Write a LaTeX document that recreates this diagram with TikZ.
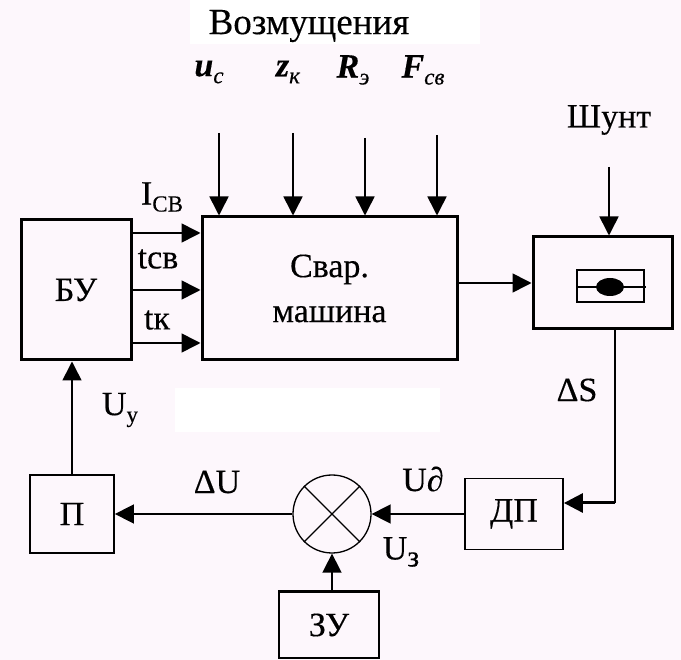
\documentclass[tikz,border=0pt]{standalone}
\usepackage{fontspec}
\setmainfont{Liberation Serif}[FakeBold=0.3]
\usetikzlibrary{arrows.meta}
\definecolor{bg}{HTML}{FDF7FC}
\newcommand\subl[1]{\raisebox{-7pt}{\fontsize{23}{23}\selectfont #1}}
\begin{document}
\begin{tikzpicture}[x=1pt,y=-1pt,
  font=\fontsize{34}{38}\selectfont,
  thickbox/.style={draw, line width=3pt, inner sep=0pt},
  thinbox/.style={draw, line width=1.8pt, inner sep=0pt},
  arr/.style={line width=1.6pt, -{Triangle[length=19pt,width=19pt]}},
  lbl/.style={inner sep=0pt}]
\fill[bg] (0,0) rectangle (681,660);
\useasboundingbox (0,0) rectangle (681,660);
\fill[white] (175,388) rectangle (440,432);
\fill[white] (190,0) rectangle (480,44);
% blocks
\node[thickbox, minimum width=110pt, minimum height=140pt] (bu) at (76,290) {БУ};
\node[thickbox, minimum width=255pt, minimum height=143pt, align=center,
      font=\fontsize{34}{45}\selectfont] (mach) at (329.5,288.5) {Свар.\\машина};
\node[thickbox, minimum width=139pt, minimum height=92pt] (shunt) at (602.5,283) {};
\node[thinbox, minimum width=84pt, minimum height=78pt] (p) at (72,514) {П};
\node[thinbox, minimum width=98pt, minimum height=71pt] (dp) at (514,514) {ДП};
\node[thinbox, minimum width=100pt, minimum height=66pt] (zu) at (329,625) {ЗУ};
\draw[line width=3pt] (zu.north west) -- (zu.north east);
\node[draw, circle, line width=1.3pt, minimum size=78pt, inner sep=0pt] (sum) at (332,514) {};
\draw[line width=1.3pt] (sum.north east) -- (sum.south west);
\draw[line width=1.3pt] (sum.north west) -- (sum.south east);
% shunt symbol
\node[draw, line width=2.5pt, minimum width=67pt, minimum height=32pt, inner sep=0pt] (sym) at (610.5,286) {};
\coordinate (symL) at (577,287);
\coordinate (symR) at (646,287);
\draw[line width=2.5pt] (symL) -- (symR);
\fill (610,287) ellipse [x radius=14pt, y radius=9pt];
% title and disturbances
\node[lbl, font=\fontsize{37}{40}\selectfont] (title) at (309,26) {Возмущения};
\node[lbl] (uc) at (209,72) {\textbf{\textit{u}}\subl{\textit{с}}};
\node[lbl] (zk) at (288,72) {\textbf{\textit{z}}\subl{\textit{к}}};
\node[lbl] (re) at (353,70) {\textbf{\textit{R}}\subl{\textit{э}}};
\node[lbl] (fsv) at (423,70) {\textbf{\textit{F}}\subl{\textit{св}}};
\coordinate (d1) at (219,133);
\coordinate (d2) at (293,133);
\coordinate (d3) at (365,138);
\coordinate (d4) at (437,135);
\foreach \d in {d1,d2,d3,d4} \draw[arr] (\d) -- (\d |- mach.north);
% BU to machine
\draw[arr] (bu.east |- 0,233) -- (mach.west |- 0,233);
\draw[arr] (bu.east |- 0,290) -- (mach.west |- 0,290);
\draw[arr] (bu.east |- 0,343) -- (mach.west |- 0,343);
\node[lbl] (icb) at (162,197) {I\subl{СВ}};
\node[lbl] (tsv) at (158,259) {tсв};
\node[lbl] (tk) at (157,320) {tк};
% machine to shunt
\draw[arr] (mach.east |- shunt.west) -- (shunt.west);
\node[lbl] (shl) at (609,120) {Шунт};
\coordinate (sh) at (609,167);
\draw[arr] (sh) -- (sh |- shunt.north);
% shunt to DP
\coordinate (c1) at (615,503);
\draw[line width=1.6pt] (shunt.south -| c1) -- (c1);
\draw[line width=3pt, -{Triangle[length=19pt,width=19pt]}] (c1) -- (dp.east |- c1);
\node[lbl] (ds) at (577,390) {ΔS};
% DP to sum, sum to P
\draw[arr] (dp.west) -- (sum.east);
\node[lbl] (ud) at (423,479) {U∂};
\draw[arr] (sum.west) -- (p.east);
\node[lbl] (du) at (217,482) {ΔU};
\draw[arr] (sum.south |- zu.north) -- (sum.south);
\node[lbl] (uz) at (401,552) {U\subl{\fontsize{30}{30}\selectfont з}};
% P to BU
\draw[arr] (p.north) -- (p.north |- bu.south);
\node[lbl] (uy) at (120,410) {U\subl{у}};
\end{tikzpicture}
\end{document}
